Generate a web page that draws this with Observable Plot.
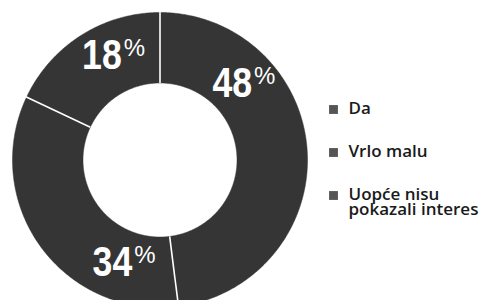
<!DOCTYPE html>
<html>
<head>
<meta charset="utf-8">
<script src="https://cdn.jsdelivr.net/npm/d3@7"></script>
<script src="https://cdn.jsdelivr.net/npm/@observablehq/plot@0.6"></script>
<style>
  html, body { margin: 0; padding: 0; background: #fff; overflow: hidden; }
  #chart svg { display: block; }
</style>
</head>
<body>
<div id="chart"></div>
<script>
// ---- data ----
const categories = ["Da", "Vrlo malu", "Uopće nisu\npokazali interes"];
const values = [48, 34, 18];
const valueLabels = ["48", "34", "18"];

// ---- layout (not data) ----
const W = 484, H = 300;
const cx = 159.5, cy = 159.5, rOuter = 147.5, rInner = 77;
const labelAngle = [47, 199.5, 336.5];   // degrees clockwise from top
const labelRadius = [115, 107, 116];
const sliceColor = "#353535";

const pie = d3.pie().sort(null).startAngle(0).endAngle(2 * Math.PI)(values);

// polygon points for each slice (geometry derived from the values)
const pts = [];
pie.forEach((s, i) => {
  const n = Math.max(8, Math.ceil((s.endAngle - s.startAngle) / 0.01));
  for (let k = 0; k <= n; k++) {
    const a = s.startAngle + (s.endAngle - s.startAngle) * k / n;
    pts.push({k: i, x: cx + rOuter * Math.sin(a), y: cy - rOuter * Math.cos(a)});
  }
  for (let k = n; k >= 0; k--) {
    const a = s.startAngle + (s.endAngle - s.startAngle) * k / n;
    pts.push({k: i, x: cx + rInner * Math.sin(a), y: cy - rInner * Math.cos(a)});
  }
  const a0 = s.startAngle;
  pts.push({k: i, x: cx + rOuter * Math.sin(a0), y: cy - rOuter * Math.cos(a0)});
});

// separator lines (white) at slice boundaries
const seps = pie.map(s => ({
  x1: cx + rInner * Math.sin(s.startAngle), y1: cy - rInner * Math.cos(s.startAngle),
  x2: cx + (rOuter + 2) * Math.sin(s.startAngle), y2: cy - (rOuter + 2) * Math.cos(s.startAngle)
}));

const labels = values.map((v, i) => {
  const a = labelAngle[i] * Math.PI / 180;
  return {t: valueLabels[i], x: cx + labelRadius[i] * Math.sin(a), y: cy - labelRadius[i] * Math.cos(a)};
});

const legend = categories.map((c, i) => ({label: c, y: 102 + i * 43}));

const chart = Plot.plot({
  width: W, height: H, margin: 0,
  style: {background: "#fff"},
  x: {domain: [0, W], range: [0, W], axis: null},
  y: {domain: [0, H], range: [0, H], axis: null},
  marks: [
    Plot.line(pts, {x: "x", y: "y", z: "k", fill: sliceColor, stroke: sliceColor, strokeWidth: 0.5, curve: "linear"}),
    Plot.link(seps, {x1: "x1", y1: "y1", x2: "x2", y2: "y2", stroke: "#fff", strokeWidth: 1.6}),
    Plot.text(labels, {x: "x", y: "y", text: "t", textAnchor: "end", lineAnchor: "middle", dx: 8, dy: 2,
      fill: "#fff", fontSize: 42, fontWeight: "bold",
      fontFamily: "'Liberation Sans', Arial, sans-serif"}),
    Plot.text(labels, {x: "x", y: "y", text: () => "%", textAnchor: "start", lineAnchor: "top", dx: 10, dy: -15,
      fill: "#fff", fontSize: 24, fontWeight: "normal",
      fontFamily: "'Liberation Sans', Arial, sans-serif"}),
    Plot.dot(legend, {x: () => 333, y: d => d.y + 7, symbol: "square", r: 5, fill: "#555", stroke: null}),
    Plot.text(legend, {x: () => 348, y: "y", text: "label", textAnchor: "start", lineAnchor: "top",
      lineHeight: 0.92, fill: "#1a1a1a", fontSize: 17, fontWeight: 600,
      fontFamily: "'Open Sans', 'Noto Sans', sans-serif"})
  ]
});
// condense the big percentage numbers horizontally (narrow bold face)
const textGroups = chart.querySelectorAll('g[aria-label="text"]');
if (textGroups.length) {
  textGroups[0].querySelectorAll("text").forEach(t => {
    const tr = t.getAttribute("transform") || "";
    t.setAttribute("transform", tr + " scale(0.85,1)");
  });
}
document.getElementById("chart").append(chart);
</script>
</body>
</html>
